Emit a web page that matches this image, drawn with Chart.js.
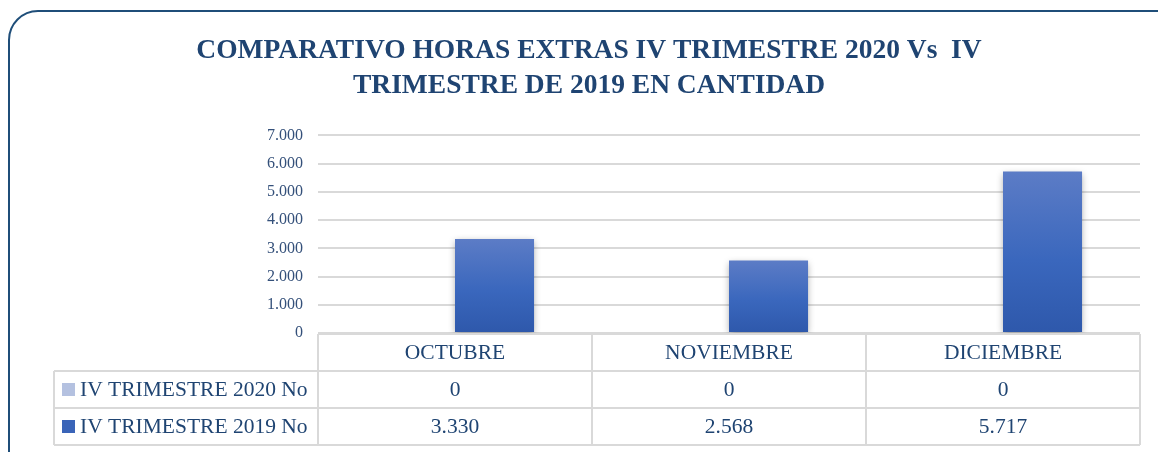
<!DOCTYPE html>
<html>
<head>
<meta charset="utf-8">
<script src="https://cdn.jsdelivr.net/npm/chart.js@4/dist/chart.umd.min.js"></script>
<style>
  html, body { margin: 0; padding: 0; background: #fff; overflow: hidden; }
  #wrap { position: relative; width: 1158px; height: 452px; }
  #frame { position: absolute; left: 8px; top: 10px; width: 1180px; height: 480px;
           border: 2.5px solid #1f4e79; border-radius: 30px; box-sizing: border-box; }
  canvas { position: absolute; left: 0; top: 0; }
</style>
</head>
<body>
<div id="wrap">
  <div id="frame"></div>
  <canvas id="myChart" width="1158" height="452"></canvas>
</div>
<script>
var categories = ['OCTUBRE', 'NOVIEMBRE', 'DICIEMBRE'];
var series2020 = [0, 0, 0];
var series2019 = [3330, 2568, 5717];
var seriesNames = ['IV TRIMESTRE 2020 No', 'IV TRIMESTRE 2019 No'];
var yMax = 7000;
var yStep = 1000;

var textBlue = '#1f4472';
var tickBlue = '#34507a';
var lineGrey = '#d9d9d9';
var color2020 = '#b4c1e0';

function fmt(v) {
  return String(v).replace(/\B(?=(\d{3})+(?!\d))/g, '.');
}

// soft shadow under the bars
var barShadow = {
  id: 'barShadow',
  beforeDatasetDraw: function(chart) {
    var ctx = chart.ctx;
    ctx.save();
    ctx.shadowColor = 'rgba(0,0,0,0.35)';
    ctx.shadowBlur = 7;
    ctx.shadowOffsetY = 2;
  },
  afterDatasetDraw: function(chart) {
    chart.ctx.restore();
  }
};

// data table under the plot
var dataTable = {
  id: 'dataTable',
  afterDraw: function(chart) {
    var ctx = chart.ctx;
    var area = chart.chartArea;
    var colW = (area.right - area.left) / categories.length;
    var rowH = 37;
    var top = area.bottom + 1;
    var tableLeft = 54;
    var rows = [series2020, series2019];
    var colors = [color2020, '#3a64b8'];

    ctx.save();
    ctx.strokeStyle = lineGrey;
    ctx.lineWidth = 2;
    ctx.beginPath();
    ctx.moveTo(area.left, top); ctx.lineTo(area.right, top);
    for (var r = 1; r <= 3; r++) {
      ctx.moveTo(tableLeft, top + r * rowH); ctx.lineTo(area.right, top + r * rowH);
    }
    ctx.moveTo(tableLeft, top + rowH); ctx.lineTo(tableLeft, top + 3 * rowH);
    for (var c = 0; c <= categories.length; c++) {
      var x = area.left + c * colW;
      ctx.moveTo(x, top); ctx.lineTo(x, top + 3 * rowH);
    }
    ctx.stroke();

    ctx.fillStyle = textBlue;
    ctx.textAlign = 'center';
    ctx.textBaseline = 'middle';
    ctx.font = '21.5px "Liberation Serif", serif';
    for (var i = 0; i < categories.length; i++) {
      var cx = chart.scales.x.getPixelForValue(i);
      ctx.fillText(categories[i], cx, top + rowH / 2 + 1);
      for (var j = 0; j < rows.length; j++) {
        ctx.fillText(fmt(rows[j][i]), cx, top + rowH * (j + 1.5) + 1);
      }
    }
    ctx.textAlign = 'left';
    for (var k = 0; k < seriesNames.length; k++) {
      var cy = top + rowH * (k + 1.5);
      ctx.fillStyle = colors[k];
      ctx.fillRect(62, cy - 6.5, 13, 13);
      ctx.fillStyle = textBlue;
      ctx.fillText(seriesNames[k], 80, cy + 1);
    }
    ctx.restore();
  }
};

var ctx = document.getElementById('myChart');
var myChart = new Chart(ctx, {
  type: 'bar',
  data: {
    labels: categories,
    datasets: [
      {
        label: seriesNames[0],
        data: series2020,
        backgroundColor: color2020,
        categoryPercentage: 0.577,
        barPercentage: 1
      },
      {
        label: seriesNames[1],
        data: series2019,
        backgroundColor: function(c) {
          var a = c.chart.chartArea;
          if (!a || c.raw === undefined) return '#3a64b8';
          var y0 = c.chart.scales.y.getPixelForValue(c.raw);
          var g = c.chart.ctx.createLinearGradient(0, y0, 0, a.bottom);
          g.addColorStop(0, '#5c7cc6');
          g.addColorStop(0.55, '#3a67bd');
          g.addColorStop(1, '#2e58ab');
          return g;
        },
        categoryPercentage: 0.577,
        barPercentage: 1
      }
    ]
  },
  options: {
    responsive: false,
    animation: false,
    layout: { padding: { left: 38, right: 18, top: 0, bottom: 119 } },
    plugins: {
      legend: { display: false },
      tooltip: { enabled: false },
      title: {
        display: true,
        text: ['COMPARATIVO HORAS EXTRAS IV TRIMESTRE 2020 Vs  IV', 'TRIMESTRE DE 2019 EN CANTIDAD'],
        color: textBlue,
        font: { family: '"Liberation Serif", serif', size: 27.5, weight: 'bold', lineHeight: 1.28 },
        padding: { top: 33, bottom: 32 }
      }
    },
    scales: {
      x: { display: false },
      y: {
        min: 0,
        max: yMax,
        ticks: {
          stepSize: yStep,
          padding: 15,
          color: tickBlue,
          font: { family: '"Liberation Serif", serif', size: 16 },
          callback: function(v) { return fmt(v); }
        },
        grid: { color: lineGrey, lineWidth: 2, drawTicks: false },
        border: { display: false },
        afterFit: function(scale) { scale.width = 280; }
      }
    }
  },
  plugins: [barShadow, dataTable]
});
</script>
</body>
</html>
